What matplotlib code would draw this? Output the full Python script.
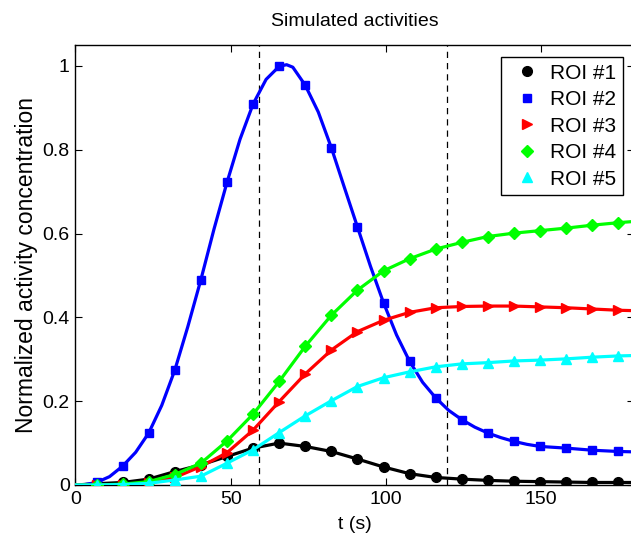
import matplotlib
matplotlib.use("Agg")
import matplotlib.pyplot as plt
from matplotlib.lines import Line2D

plt.rcParams['font.family'] = ['Liberation Sans', 'DejaVu Sans']

# ---- data ----
t_markers = [6.8, 15.2, 23.6, 32.0, 40.4, 48.8, 57.2, 65.6, 74.0, 82.4, 90.8,
             99.2, 107.6, 116.0, 124.4, 132.8, 141.2, 149.6, 158.0, 166.4, 174.8]

roi1 = [0.003, 0.006, 0.014, 0.032, 0.048, 0.068, 0.088, 0.100, 0.092, 0.080, 0.062,
        0.043, 0.027, 0.018, 0.014, 0.011, 0.009, 0.008, 0.007, 0.006, 0.006]
roi2 = [0.006, 0.045, 0.124, 0.274, 0.490, 0.722, 0.909, 0.999, 0.954, 0.805, 0.616,
        0.435, 0.295, 0.208, 0.156, 0.124, 0.104, 0.092, 0.088, 0.083, 0.080]
roi3 = [0.000, 0.001, 0.005, 0.018, 0.044, 0.077, 0.131, 0.199, 0.265, 0.322, 0.366,
        0.393, 0.412, 0.423, 0.426, 0.427, 0.427, 0.425, 0.423, 0.420, 0.417]
roi4 = [0.000, 0.002, 0.008, 0.025, 0.052, 0.105, 0.169, 0.247, 0.331, 0.405, 0.465,
        0.511, 0.540, 0.563, 0.579, 0.593, 0.601, 0.607, 0.613, 0.620, 0.626]
roi5 = [0.000, 0.001, 0.004, 0.012, 0.021, 0.052, 0.084, 0.125, 0.165, 0.201, 0.235,
        0.256, 0.270, 0.282, 0.289, 0.292, 0.296, 0.298, 0.301, 0.305, 0.308]

# curve start / end values (t = 0 and t = 180)
t_start, t_end = 0.0, 180.0
start_vals = [0.0, 0.0, 0.0, 0.0, 0.0]
end_vals = [0.006, 0.079, 0.416, 0.629, 0.309]

# denser read of the blue curve (smooth peak)
blue_curve_t = [0, 3, 6.8, 11, 15.2, 19.4, 23.6, 27.8, 32, 36.2, 40.4, 44.6, 48.8, 53,
                57.2, 61.4, 65.6, 68, 70, 74, 78.2, 82.4, 86.6, 90.8, 95, 99.2, 103.4,
                107.6, 111.8, 116, 120.2, 124.4, 128.6, 132.8, 137, 141.2, 145.4, 149.6,
                158, 166.4, 174.8, 180]
blue_curve_v = [0, 0.001, 0.006, 0.02, 0.045, 0.078, 0.124, 0.19, 0.274, 0.378, 0.49,
                0.61, 0.722, 0.825, 0.909, 0.968, 0.999, 1.003, 0.997, 0.954, 0.89,
                0.805, 0.71, 0.616, 0.522, 0.435, 0.358, 0.295, 0.245, 0.208, 0.178,
                0.156, 0.138, 0.124, 0.113, 0.104, 0.097, 0.092, 0.088, 0.083, 0.080,
                0.079]

labels = ['ROI #1', 'ROI #2', 'ROI #3', 'ROI #4', 'ROI #5']
colors = ['black', '#0000ff', '#ff0000', '#00ff00', '#00ffff']
markers = ['o', 's', '>', 'D', '^']
msizes = [7, 6, 7.5, 6, 7.5]
vlines = [59.0, 119.5]

x_ticks = [0, 50, 100, 150]
y_ticks = [0, 0.2, 0.4, 0.6, 0.8, 1.0]
y_ticklabels = ['0', '0.2', '0.4', '0.6', '0.8', '1']

# ---- figure ----
fig = plt.figure(figsize=(6.31, 5.39), dpi=100)
ax = fig.add_axes([0.1195, 0.1002, 0.886, 0.8163])

series = [roi1, roi2, roi3, roi4, roi5]
for i, vals in enumerate(series):
    if i == 1:
        ct, cv = blue_curve_t, blue_curve_v
    else:
        ct = [t_start] + t_markers + [t_end]
        cv = [start_vals[i]] + vals + [end_vals[i]]
    ax.plot(ct, cv, color=colors[i], lw=2.3, zorder=2 + i, solid_joinstyle='round',
            clip_on=True)
    ax.plot(t_markers, vals, linestyle='none', marker=markers[i], ms=msizes[i],
            color=colors[i], markeredgecolor=colors[i], zorder=2 + i)

for xv in vlines:
    ax.axvline(xv, color='black', lw=0.9, linestyle=(0, (5, 4)), zorder=1)

ax.set_xlim(0, 180)
ax.set_ylim(0, 1.05)
ax.set_xticks(x_ticks)
ax.set_yticks(y_ticks)
ax.set_yticklabels(y_ticklabels)
ax.tick_params(direction='in', length=5, width=0.8, top=True, right=True,
               labelsize=14, pad=4)
for s in ax.spines.values():
    s.set_linewidth(1.0)

ax.set_xlabel('t (s)', fontsize=14, labelpad=6)
ax.set_ylabel('Normalized activity concentration', fontsize=16.5, labelpad=3)
ax.set_title('Simulated activities', fontsize=14, pad=14)

handles = [Line2D([], [], linestyle='none', marker=markers[i], ms=msizes[i],
                  color=colors[i], markeredgecolor=colors[i]) for i in range(5)]
leg = ax.legend(handles, labels, loc='upper right', bbox_to_anchor=(0.9796, 0.9727),
                borderaxespad=0, fancybox=False, framealpha=1, edgecolor='black',
                fontsize=15, handlelength=1.9, handletextpad=0.15, labelspacing=0.36,
                borderpad=0.32)
leg.get_frame().set_linewidth(1.0)

fig.savefig('out.png', dpi=100)
